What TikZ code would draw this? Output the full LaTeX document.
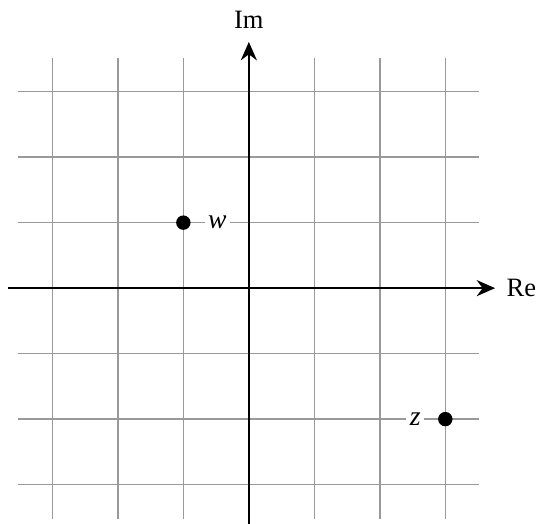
\documentclass[tikz,border=0pt]{standalone}
\usepackage{fontspec}
\setmainfont{Liberation Serif}
\usepackage{tikz}
\usetikzlibrary{arrows.meta, positioning, calc}

\begin{document}
\begin{tikzpicture}[
    >={Stealth[length=8pt, width=7pt]},
    gridline/.style={draw=black!40, line width=0.6pt},
    axis/.style={->, line width=0.9pt},
    dot/.style={circle, fill=black, inner sep=0pt, minimum size=0.22cm},
    lbl/.style={fill=white, inner sep=1.5pt, font=\itshape\large},
    axlbl/.style={inner sep=0pt, font=\fontsize{11.5}{13}\selectfont}
]
\useasboundingbox (-3.80,-3.59) rectangle (4.40,4.40);

\foreach \k in {-3,...,3} {
    \draw[gridline] (\k,-3.52) -- (\k,3.52);
    \draw[gridline] (-3.52,\k) -- (3.52,\k);
}

\coordinate (reL) at (-3.68,0);
\coordinate (reR) at (3.76,0);
\coordinate (imB) at (0,-3.6);
\coordinate (imT) at (0,3.76);

\draw[axis] (reL) -- (reR);
\draw[axis] (imB) -- (imT);
\node[axlbl, right=0.17cm of reR] (re) {Re};
\node[axlbl, above=0.2cm of imT] (im) {Im};

\node[dot] (w) at (-1,1) {};
\node[lbl, right=0.2cm of w] (wl) {w};
\node[dot] (z) at (3,-2) {};
\node[lbl, left=0.2cm of z] (zl) {z};

\end{tikzpicture}
\end{document}
